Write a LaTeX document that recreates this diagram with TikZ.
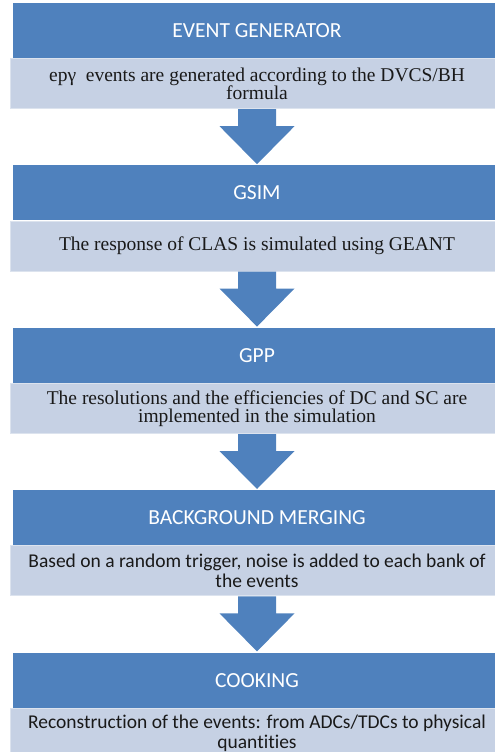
\documentclass[tikz,border=0pt]{standalone}
\usepackage{fontspec}
\setmainfont{Liberation Serif}
\newfontfamily\calibri[Ligatures=NoCommon]{Carlito}
\usetikzlibrary{positioning}

\definecolor{hdrblue}{HTML}{4F81BD}
\definecolor{boxblue}{HTML}{C6D1E4}
\definecolor{boxedge}{HTML}{DCE3EE}

\tikzset{
    header/.style={fill=hdrblue, text=white, inner sep=0pt,
        minimum width=488pt, minimum height=55pt,
        font=\calibri\fontsize{21.5}{24}\selectfont},
    detail/.style={fill=boxblue, draw=boxedge, line width=1pt, text=black!90,
        inner sep=0pt, minimum width=494pt, minimum height=50pt, align=center,
        font=\fontsize{19.5}{18.5}\selectfont},
    sansdetail/.style={detail, font=\calibri\fontsize{19.5}{20}\selectfont},
    flowarrow/.style={fill=hdrblue}
}

\begin{document}
\begin{tikzpicture}[x=1pt, y=1pt, node distance=0pt]
    \useasboundingbox (0,0) rectangle (495,-752);

    % 1. event generator
    \node[header] (h1) at (257,-30.5) {EVENT GENERATOR};
    \node[detail, below=of h1] (d1) {epγ~~events are generated according to the DVCS/BH\\formula};

    % 2. gsim
    \node[header, below=56pt of d1] (h2) {GSIM};
    \node[detail, below=of h2] (d2) {The response of CLAS is simulated using GEANT};

    % 3. gpp
    \node[header, below=56pt of d2] (h3) {GPP};
    \node[detail, below=of h3] (d3) {The resolutions and the efficiencies of DC and SC are\\implemented in the simulation};

    % 4. background merging
    \node[header, below=56pt of d3] (h4) {BACKGROUND MERGING};
    \node[sansdetail, below=of h4] (d4) {Based on a random trigger, noise is added to each bank of\\the events};

    % 5. cooking
    \node[header, below=56pt of d4] (h5) {COOKING};
    \node[sansdetail, below=of h5] (d5) {Reconstruction of the events: from ADCs/TDCs to physical\\quantities};

    % block arrows between the steps
    \foreach \a/\b in {d1/h2, d2/h3, d3/h4, d4/h5} {
        \fill[flowarrow] ([xshift=-19pt]\a.south) -- ++(0,-17) -- ++(-18.5,0)
            -- ([yshift=1pt]\b.north) -- ++(37.5,38) -- ++(-18.5,0)
            -- ([xshift=19pt]\a.south) -- cycle;
    }
\end{tikzpicture}
\end{document}
